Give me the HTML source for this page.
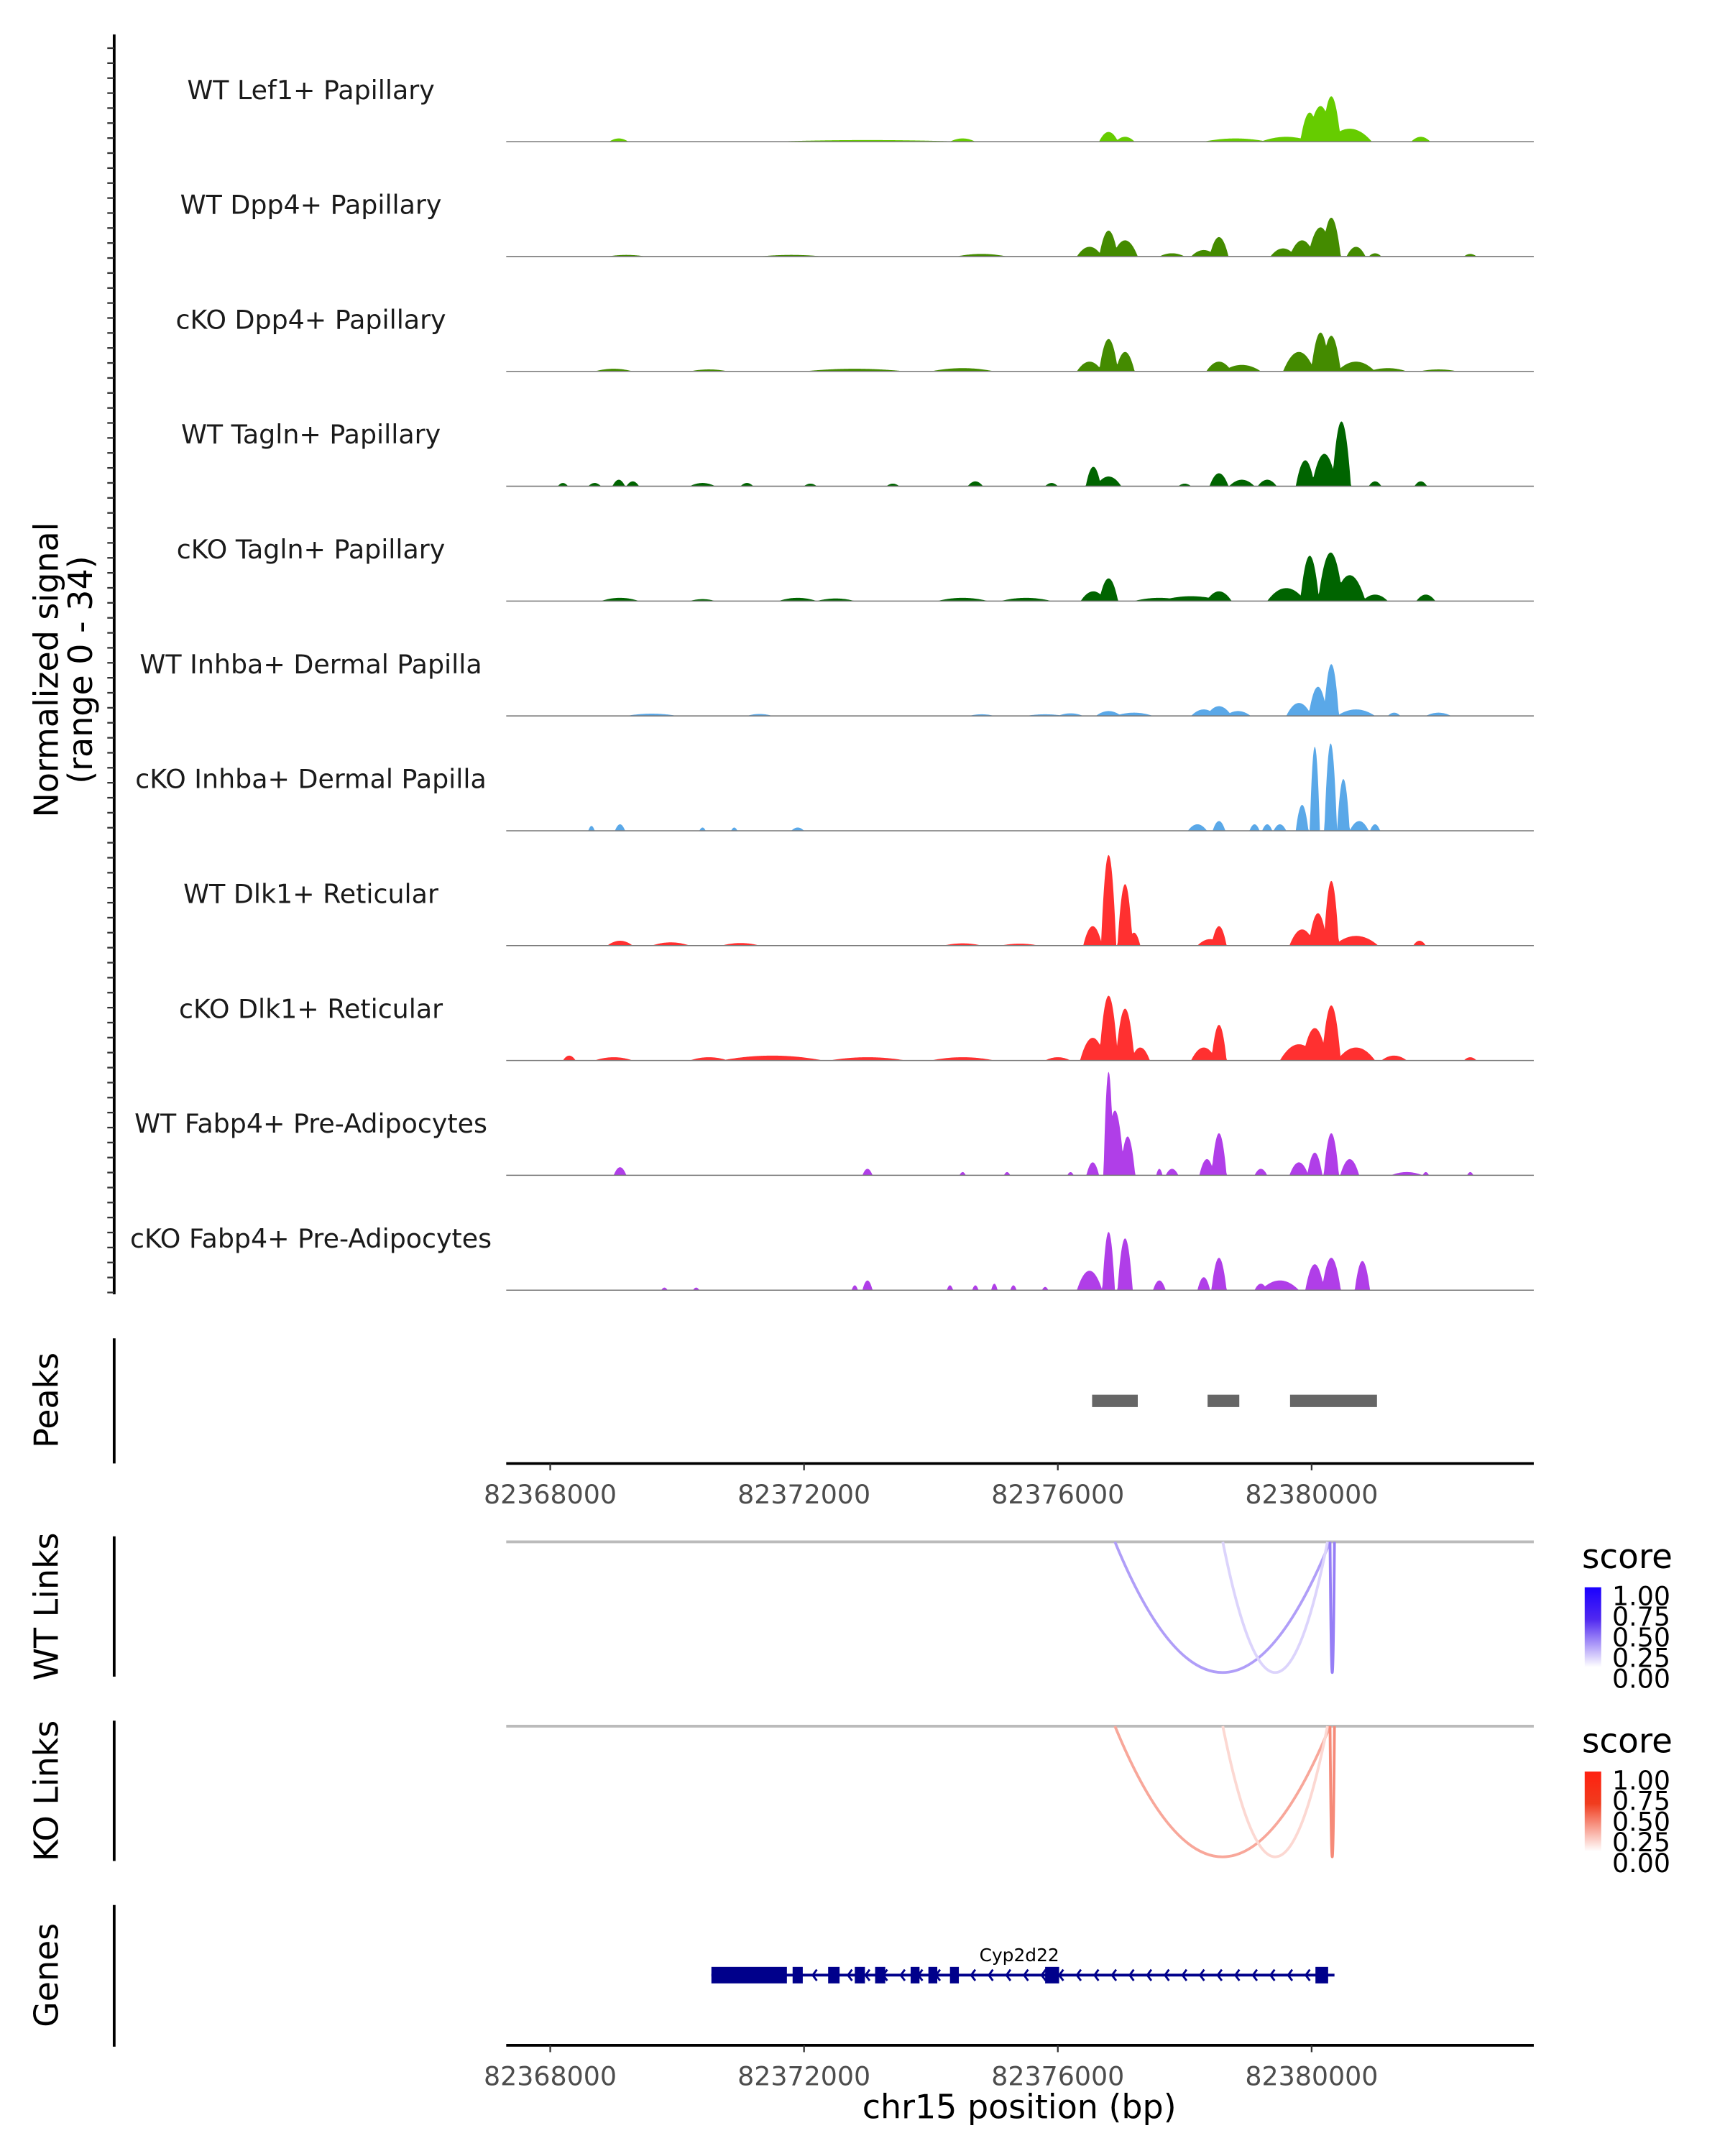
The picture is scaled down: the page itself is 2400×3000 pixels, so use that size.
<!DOCTYPE html>
<html><head><meta charset="utf-8"><style>
html,body{margin:0;padding:0;background:#fff}
svg{display:block}
text{font-family:"DejaVu Sans","Liberation Sans",sans-serif}
</style></head><body>
<svg id="c" xmlns="http://www.w3.org/2000/svg" width="2400" height="3000" viewBox="0 0 1254 1567.5" preserveAspectRatio="none"></svg>
<script>
const trackNames=["WT Lef1+ Papillary","WT Dpp4+ Papillary","cKO Dpp4+ Papillary","WT Tagln+ Papillary","cKO Tagln+ Papillary","WT Inhba+ Dermal Papilla","cKO Inhba+ Dermal Papilla","WT Dlk1+ Reticular","cKO Dlk1+ Reticular","WT Fabp4+ Pre-Adipocytes","cKO Fabp4+ Pre-Adipocytes"];
const trackColors=["#66cc00","#448b00","#448b00","#006400","#006400","#5aa8e8","#5aa8e8","#ff3030","#ff3030","#b03ee8","#b03ee8"];
// peaks: [position kb from 82368000, signal, half-width kb]
const sig0=[[12.31,14,.15],[11.97,9,.15],[12.14,11,.2],[12.6,4,.35],[11.6,1.5,.4],[8.8,3,.15],[9.06,1.5,.15],[13.72,1.5,.15],[1.08,1,.15],[6.5,1,.2],[10.8,1,.5],[5,.5,1.5]];
const sig1=[[12.31,12,.15],[12.14,9,.2],[11.85,5,.2],[8.8,8,.15],[9.06,5,.2],[8.5,3,.2],[10.54,6,.15],[10.3,2,.2],[11.55,2.5,.2],[12.7,3,.15],[13,1,.1],[9.8,1,.2],[14.5,.8,.1],[6.8,.8,.4],[1.2,.5,.3],[3.8,.5,.5]];
const sig2=[[12.14,12,.15],[12.31,11,.15],[11.8,6,.25],[8.8,10,.15],[9.06,6,.15],[8.5,3,.2],[10.54,3,.2],[10.9,2,.3],[12.7,3,.3],[13.2,1,.3],[6.5,1,.5],[4.8,.8,.8],[1,.8,.3],[2.5,.6,.3],[14,.6,.3]];
const sig3=[[12.47,20,.15],[12.2,10,.2],[11.9,8,.15],[8.56,6,.12],[8.8,3,.2],[10.54,4,.15],[10.9,2,.2],[11.3,2,.15],[13,1.5,.1],[13.72,1.5,.1],[.2,1,.08],[1.08,2,.1],[1.3,1.5,.1],[.7,1,.1],[2.4,1,.2],[3.1,1,.1],[4.1,.8,.1],[5.4,.8,.1],[6.7,1.5,.12],[7.9,1,.1],[10,.8,.1]];
const sig4=[[12.3,15,.2],[11.97,14,.15],[12.6,8,.25],[11.6,4,.3],[8.8,7,.15],[8.56,3,.2],[10.54,3,.2],[10.1,1.5,.5],[13,2,.2],[13.8,2,.15],[1.1,1,.3],[3.9,1,.3],[6.5,1,.4],[7.5,1,.4],[9.6,1,.4],[4.5,.8,.3],[2.4,.6,.2]];
const sig5=[[12.31,16,.12],[12.1,9,.15],[11.8,4,.2],[12.7,2,.3],[10.3,2,.2],[10.54,3,.2],[10.84,1.5,.2],[8.8,1.5,.2],[9.2,1,.3],[8.2,.8,.2],[14,1,.2],[13.3,1,.1],[1.6,.7,.4],[3.3,.6,.2],[6.8,.5,.2],[7.8,.5,.3]];
const sig6=[[12.3,27,.1],[12.05,26,.08],[12.5,16,.1],[11.85,8,.1],[12.75,3,.15],[13,2,.08],[10.54,3,.1],[10.2,2,.15],[11.1,2,.08],[11.5,2,.1],[11.3,2,.08],[1.1,2,.08],[.65,1.5,.05],[2.4,1,.05],[2.9,1,.05],[3.9,1,.1]];
const sig7=[[8.8,28,.12],[9.06,19,.12],[8.55,6,.15],[9.2,4,.1],[10.54,6,.12],[10.4,2,.2],[12.31,20,.12],[12.1,10,.15],[11.85,5,.2],[12.7,3,.35],[13.7,1.5,.1],[1.1,1.5,.2],[1.9,1,.3],[3,.8,.3],[6.5,.7,.3],[7.4,.6,.3]];
const sig8=[[8.8,20,.15],[9.06,16,.15],[8.55,7,.2],[9.3,4,.15],[10.54,11,.12],[10.3,4,.2],[12.31,17,.15],[12.05,10,.2],[11.8,5,.3],[12.7,4,.3],[13.3,1.5,.2],[14.5,1,.1],[.3,1.5,.1],[1,1,.3],[3.5,1.5,.8],[5,1,.6],[6.5,1,.5],[8,1,.2],[2.5,1,.3]];
const sig9=[[8.8,32,.08],[8.9,20,.15],[9.1,12,.12],[8.55,4,.1],[10.54,13,.12],[10.35,5,.12],[12.31,13,.12],[12.05,7,.12],[11.8,4,.15],[12.6,5,.15],[11.2,2,.1],[9.8,2,.1],[9.6,2,.05],[13.5,1,.25],[14.5,1,.05],[1.1,2.5,.1],[5,2,.08],[6.5,1,.05],[7.2,1,.05],[8.2,1,.05],[13.8,1,.05]];
const sig10=[[8.8,18,.1],[9.06,16,.12],[8.5,6,.2],[10.54,10,.12],[10.3,4,.1],[12.31,10,.15],[12.05,8,.15],[12.8,9,.12],[11.5,3,.3],[9.6,3,.1],[11.2,2,.1],[1.8,.8,.05],[2.3,.8,.05],[5,3,.08],[4.8,1.5,.05],[6.7,1.5,.05],[7,2,.05],[7.3,1.5,.05],[7.8,1,.05],[6.3,1.5,.05]];
const signals=[sig0,sig1,sig2,sig3,sig4,sig5,sig6,sig7,sig8,sig9,sig10];
const peakRegions=[[8.54,9.26],[10.36,10.86],[11.66,13.03]];
const tickValues=[82368000,82372000,82376000,82380000];
const wtLinks=[[8.9,12.29,0.45],[10.6,12.25,0.2],[12.29,12.36,0.6]];
const koLinks=[[8.9,12.29,0.45],[10.6,12.25,0.2],[12.29,12.36,0.6]];
const legendTicks=["1.00","0.75","0.50","0.25","0.00"];
const geneSpan=[2.54,12.36];
const exonsKb=[[2.54,3.73],[3.82,3.98],[4.38,4.56],[4.8,4.96],[5.12,5.28],[5.68,5.82],[5.96,6.1],[6.3,6.44],[7.8,8.02],[12.06,12.26]];

const svg=document.getElementById('c');
const NS='http://www.w3.org/2000/svg';
const L=368,R=1115,X0=400,PX=184.5/4;
function x(kb){return X0+kb*PX;}
function mk(tag,attrs,parent){const e=document.createElementNS(NS,tag);for(const k in attrs)e.setAttribute(k,attrs[k]);(parent||svg).appendChild(e);return e;}
function txt(s,attrs,parent){const e=mk('text',attrs,parent);e.textContent=s;return e;}
const base0=103,step=83.5,ys=80/34;

signals.forEach((pk,i)=>{
  const b=base0+i*step;
  const g=mk('g',{});
  
  
  let d='M'+L+','+b;
  for(let px=L;px<=R;px+=0.5){
    const kb=(px-X0)/PX;let v=0;
    pk.forEach(p=>{const t=(kb-p[0])/p[2];if(Math.abs(t)<1){v=Math.max(v,p[1]*(1-t*t));}});
    d+=' L'+px+','+(b-v*ys).toFixed(2);
  }
  d+=' L'+R+','+b+' Z';
  const a=mk('path',{d:d,fill:trackColors[i]},g);
  
  
  mk('line',{x1:L,x2:R,y1:b,y2:b,stroke:'#777','stroke-width':0.8},g);
  const t=txt(trackNames[i],{x:226,y:b-31,'text-anchor':'middle','font-size':19,fill:'#1a1a1a'},g);
  
  
});

function yaxis(y1,y2,name,ticks){
  const g=mk('g',{});
  mk('line',{x1:83,x2:83,y1:y1,y2:y2,stroke:'#000','stroke-width':2},g);
  if(ticks){for(let y=y1+10;y<y2;y+=10.9)mk('line',{x1:78,x2:83,y1:y,y2:y,stroke:'#333','stroke-width':1.2},g);}
}
yaxis(25,941,'signal-y-axis',true);
yaxis(973,1064,'peaks-y-axis');yaxis(1117,1219,'wt-links-y-axis');yaxis(1251,1353,'ko-links-y-axis');yaxis(1385,1488,'genes-y-axis');
function vlabel(s,cx,cy,name){const t=txt(s,{x:cx,y:cy,transform:'rotate(-90 '+cx+' '+cy+')','text-anchor':'middle','font-size':24,fill:'#000'});}
vlabel('Normalized signal',42,487,'y-axis-title');vlabel('(range 0 - 34)',67,487,'y-axis-range');
vlabel('Peaks',42,1018,'peaks-label');vlabel('WT Links',42,1168,'wt-links-label');vlabel('KO Links',42,1302,'ko-links-label');vlabel('Genes',42,1436,'genes-label');

peakRegions.forEach(p=>{const r=mk('rect',{x:x(p[0]),y:1014,width:x(p[1])-x(p[0]),height:9,fill:'#666'});
});

function xaxis(y,name){
  const g=mk('g',{});
  mk('line',{x1:L,x2:R,y1:y,y2:y,stroke:'#000','stroke-width':2},g);
  tickValues.forEach(v=>{const px=x((v-82368000)/1000);
    mk('line',{x1:px,x2:px,y1:y,y2:y+5,stroke:'#333','stroke-width':1.2},g);
    txt(String(v),{x:px,y:y+29,'text-anchor':'middle','font-size':19,fill:'#4d4d4d'},g);});
}
xaxis(1064,'peaks-x-axis');xaxis(1487,'genes-x-axis');
const xt=txt('chr15 position (bp)',{x:741,y:1540,'text-anchor':'middle','font-size':24,fill:'#000'});


function links(arr,top,depth,c0,cTop,name,legY){
  const g=mk('g',{});
  mk('line',{x1:L,x2:R,y1:top,y2:top,stroke:'#bbb','stroke-width':2},g);
  arr.forEach(l=>{const a=x(l[0]),b=x(l[1]),s=l[2];
    const col='rgb('+Math.round(255+(c0[0]-255)*s)+','+Math.round(255+(c0[1]-255)*s)+','+Math.round(255+(c0[2]-255)*s)+')';
    const p=mk('path',{d:'M'+a+','+top+' Q'+((a+b)/2)+','+(top+2*depth)+' '+b+','+top,fill:'none',stroke:col,'stroke-width':2},g);
    });
  const lg=mk('g',{});
  txt('score',{x:1150,y:legY,'font-size':24.5,fill:'#000'},lg);
  const gid='gr'+name;const gr=mk('linearGradient',{id:gid,x1:0,y1:1,x2:0,y2:0},lg);
  mk('stop',{offset:0,'stop-color':'#fff'},gr);mk('stop',{offset:0.6,'stop-color':'rgb('+c0.join(',')+')'},gr);mk('stop',{offset:1,'stop-color':cTop},gr);
  mk('rect',{x:1152,y:legY+14,width:12,height:58,fill:'url(#'+gid+')'},lg);
  legendTicks.forEach((t,i)=>txt(t,{x:1172,y:legY+27+i*15,'font-size':19,fill:'#000'},lg));
}
links(wtLinks,1121,95,[80,40,240],'#1a00ff','wt-links',1140);
links(koLinks,1255,95,[240,60,30],'#ff2010','ko-links',1274);

const gg=mk('g',{});
txt('Cyp2d22',{x:741,y:1426,'text-anchor':'middle','font-size':13,fill:'#000'},gg);
mk('line',{x1:x(geneSpan[0]),x2:x(geneSpan[1]),y1:1436,y2:1436,stroke:'#00008b','stroke-width':2},gg);
exonsKb.forEach(e=>{const a=x(e[0]),b=x(e[1]);mk('rect',{x:a,y:1430,width:Math.max(b-a,3),height:12,fill:'#00008b'},gg);});
for(let px=578;px<962;px+=12.8)mk('path',{d:'M'+(px+3)+',1432 L'+px+',1436 L'+(px+3)+',1440',fill:'none',stroke:'#00008b','stroke-width':1.5},gg);
</script>
</body></html>
